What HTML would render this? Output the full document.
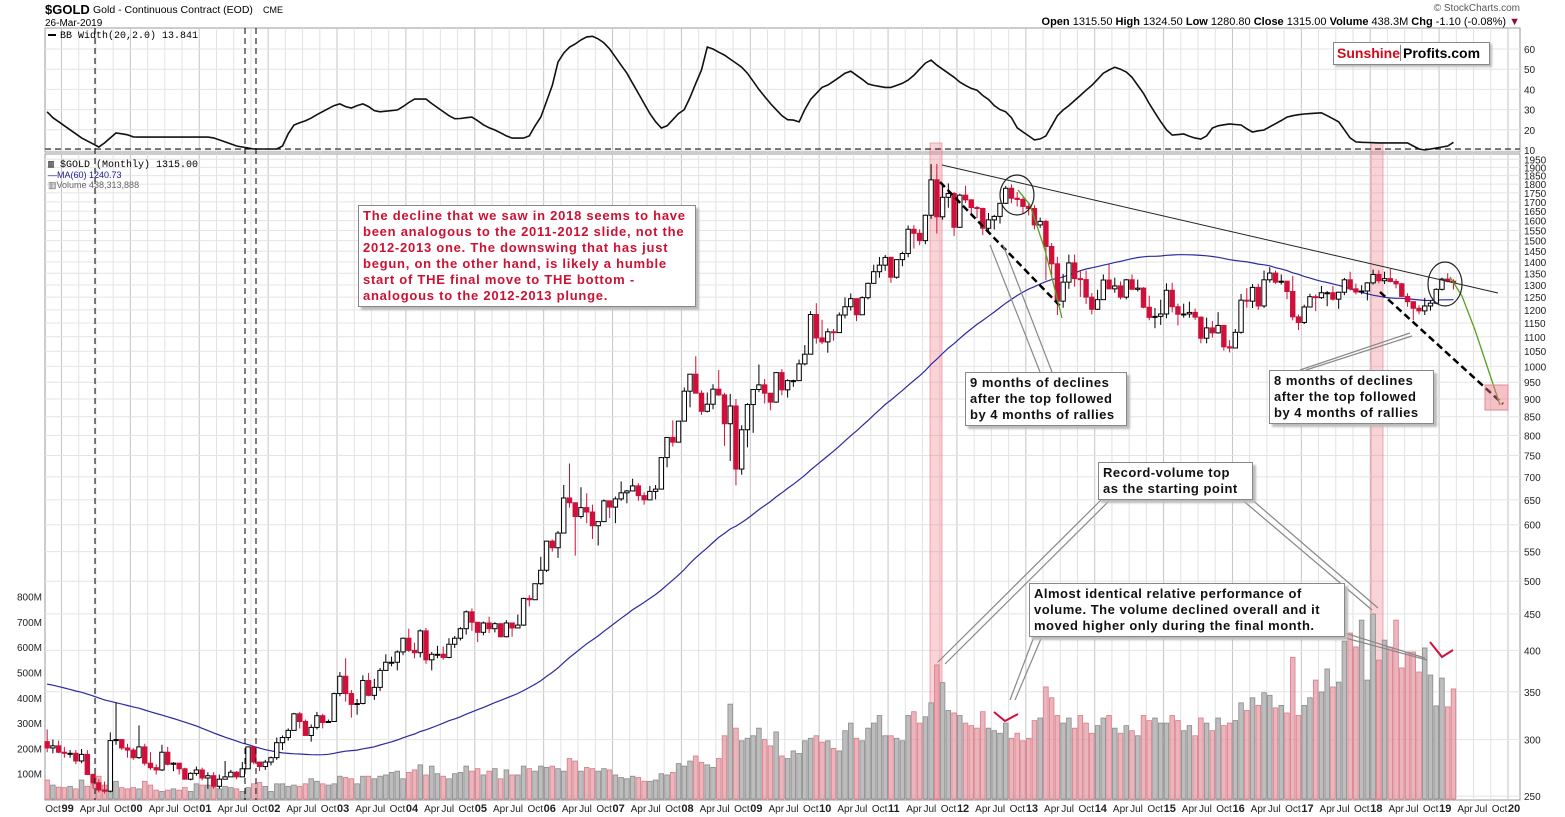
<!DOCTYPE html>
<html><head><meta charset="utf-8">
<style>
body{margin:0;background:#fff;}
svg{display:block;font-family:"Liberation Sans",Arial,sans-serif;}
.box{position:absolute;background:#fff;border:1px solid #888;box-shadow:3px 3px 2px #bbb;font:bold 13px/16px "Liberation Sans",Arial,sans-serif;color:#111;padding:2px 4px;letter-spacing:0.5px}
</style></head>
<body>
<div style="position:relative;width:1565px;height:817px;overflow:hidden">
<svg id="ch" width="1565" height="817" viewBox="0 0 1565 817"></svg>
<div class="box" style="left:358px;top:205px;width:328px;color:#cc1133;letter-spacing:0.75px">The decline that we saw in 2018 seems to have been analogous to the 2011-2012 slide, not the 2012-2013 one. The downswing that has just begun, on the other hand, is likely a humble start of THE final move to THE bottom - analogous to the 2012-2013 plunge.</div>
<div class="box" style="left:965px;top:372px;width:152px">9 months of declines after the top followed by 4 months of rallies</div>
<div class="box" style="left:1269px;top:370px;width:155px">8 months of declines after the top followed by 4 months of rallies</div>
<div class="box" style="left:1098px;top:462px;width:145px">Record-volume top as the starting point</div>
<div class="box" style="left:1029px;top:583px;width:306px">Almost identical relative performance of volume. The volume declined overall and it moved higher only during the final month.</div>
<div style="position:absolute;left:1333px;top:42px;width:155px;height:21px;border:1px solid #888;background:#fff;box-shadow:2px 2px 2px #bbb;font:bold 14px/21px 'Liberation Sans',Arial,sans-serif"><span style="color:#d10a1a;padding-left:3px">Sunshine</span><span style="border-left:1px solid #888;padding-left:2px">Profits.com</span></div>
</div>
<script>
const startYear = 1998, startMonth = 9; // Oct 1998 (0-based month)
const priorCloses = [370,391,
380,381,391,376,387,385,384,385,394,389,383,383,
375,376,391,389,384,387,383,383,384,383,387,387,
405,400,396,392,391,382,385,387,379,379,371,369,
345,364,352,340,344,334,326,325,332,311,296,290,
304,297,301,309,293,296,288,273,294];
const closes = [292,294,288,
287,287,280,286,268,261,255,254,299,300,292,290,
283,293,278,274,272,288,277,278,273,264,269,272,
265,267,258,264,266,270,266,273,293,279,275,279,
283,297,302,309,326,318,304,312,324,317,318,348,
368,348,336,337,363,346,355,375,385,385,398,416,
400,397,426,388,395,395,391,408,416,429,453,438,
424,437,429,436,418,437,430,434,473,471,496,518,
569,557,584,654,644,616,634,625,598,606,648,635,
652,665,669,680,659,650,668,673,745,795,783,838,
923,975,917,865,885,929,912,831,880,718,815,884,
928,942,917,891,980,927,955,955,1008,1040,1182,1096,
1082,1118,1115,1180,1212,1244,1181,1248,1307,1357,1386,1421,
1333,1411,1439,1556,1536,1500,1628,1825,1620,1725,1746,1566,
1737,1711,1669,1664,1561,1604,1622,1692,1776,1720,1713,1675,
1664,1578,1596,1472,1392,1234,1312,1396,1327,1323,1250,1202,
1240,1321,1284,1296,1250,1322,1282,1287,1210,1171,1175,1184,
1278,1212,1183,1184,1190,1172,1095,1132,1114,1141,1065,1061,
1116,1238,1234,1290,1215,1322,1351,1312,1316,1273,1173,1152,
1211,1252,1248,1268,1268,1242,1270,1322,1284,1271,1275,1309,
1345,1318,1327,1315,1305,1253,1232,1206,1196,1215,1226,1282,
1325,1316,1315];
const highs = [310,300,299,
293,290,290,291,290,269,264,262,307,338,300,296,
292,314,296,288,277,295,293,279,277,274,270,275,
274,270,270,268,280,272,271,279,293,293,279,281,
284,302,304,311,327,328,320,315,328,326,320,349,
373,390,352,342,369,372,365,378,395,392,400,417,
429,410,428,430,398,406,405,416,419,431,455,458,
428,439,446,438,433,441,430,449,474,478,496,541,
569,572,588,682,731,630,677,664,640,606,651,644,
657,690,671,696,686,666,680,682,745,795,840,838,
934,975,1033,925,919,944,988,918,915,900,827,888,
925,1006,960,917,981,991,959,958,1022,1071,1195,1226,
1162,1130,1128,1190,1249,1265,1242,1253,1310,1388,1423,1432,
1424,1413,1447,1575,1577,1556,1632,1920,1921,1800,1804,1755,
1745,1791,1714,1677,1668,1640,1630,1693,1790,1798,1755,1725,
1696,1682,1616,1605,1488,1424,1347,1434,1434,1361,1362,1267,
1280,1345,1392,1331,1315,1326,1345,1323,1291,1256,1207,1240,
1307,1309,1224,1224,1232,1205,1174,1170,1157,1191,1143,1088,
1128,1263,1287,1304,1305,1362,1377,1362,1345,1318,1338,1182,
1220,1264,1261,1296,1275,1296,1272,1330,1357,1306,1299,1312,
1366,1363,1357,1369,1326,1309,1266,1220,1218,1247,1237,1286,
1331,1350,1324];
const lows = [288,287,287,
283,283,277,278,268,256,253,252,253,295,290,283,
281,282,276,272,268,271,276,271,268,264,263,267,
263,256,256,256,264,266,264,267,273,277,271,272,
276,281,290,299,309,311,304,298,310,311,317,318,
345,339,322,325,336,345,341,351,375,380,375,394,
398,390,391,383,375,390,388,390,403,413,421,426,
411,420,423,424,417,417,418,432,433,461,471,494,
515,550,539,585,634,543,612,603,573,561,605,613,
603,648,643,671,648,640,654,651,672,722,772,783,
838,876,921,855,862,871,909,774,737,681,705,770,
807,920,887,868,889,911,904,936,954,1003,1043,1076,
1074,1045,1086,1114,1167,1197,1157,1181,1241,1315,1331,1361,
1309,1327,1381,1422,1462,1478,1483,1609,1535,1605,1668,1523,
1563,1693,1628,1613,1527,1547,1555,1585,1688,1693,1675,1635,
1627,1555,1563,1321,1337,1180,1208,1284,1293,1251,1223,1182,
1200,1245,1282,1268,1241,1241,1283,1273,1206,1160,1131,1143,
1168,1190,1141,1170,1170,1162,1077,1077,1097,1111,1052,1046,
1061,1111,1208,1207,1200,1207,1310,1305,1302,1242,1160,1124,
1146,1212,1195,1243,1214,1236,1204,1258,1277,1261,1262,1237,
1302,1307,1304,1311,1286,1252,1212,1160,1183,1180,1197,1222,
1277,1311,1281];
const volumes = [75,55,47,
45,50,40,75,50,60,90,55,85,70,45,40,
45,40,70,55,35,30,35,40,35,45,30,60,
55,55,45,40,50,45,40,30,45,60,65,50,
30,60,60,50,55,50,60,80,70,60,55,60,
90,85,80,60,90,90,80,90,95,105,110,80,
105,115,135,95,130,100,90,80,100,105,130,110,
120,95,110,120,80,115,95,95,130,120,110,130,
125,130,120,110,160,150,110,125,120,110,120,115,
95,85,80,90,85,70,70,75,100,95,105,140,
130,150,170,145,135,125,160,250,375,280,230,240,
250,280,235,210,265,170,160,190,180,230,240,250,
225,230,200,190,270,300,240,230,280,300,330,250,
250,240,230,330,345,300,325,380,530,460,350,340,
330,300,290,280,345,280,270,260,300,240,260,230,
240,310,320,443,400,330,300,320,280,330,300,260,
290,320,330,280,260,290,270,250,330,310,320,300,
300,330,310,270,290,250,320,300,270,320,290,300,
310,380,350,400,370,420,410,360,370,340,560,330,
370,400,470,423,514,443,462,624,656,601,707,470,
731,549,628,600,707,518,581,581,502,597,490,368,
478,364,435];
const bbWidth = [28.9,26,24,22,20,18,16,14.5,13,11.5,13.5,16,
18.4,18,17.5,16.5,16.4,16.4,16.4,16.4,16.4,16.4,16.4,16.4,
16.4,16.4,16.4,16.4,16.4,16,15,14,13,12,11.5,11,
10.5,10.5,10.5,10.5,10.5,12,18,22.4,23.5,24.5,25.8,27.5,
29,30.5,32,32.8,31.5,30.8,32,32.8,31.5,29.5,28.9,29.2,
29.5,29.8,31.5,33.5,35.2,35.2,35.2,33,31,29,27,25.5,
25.6,26,26.3,24.5,22.5,21,19.9,18.5,17,15.9,15.9,15.9,
17,22,26.3,34,42,53.5,58,60.9,62.5,64.5,66,66.3,
65,63,60,56,52,48,43,38,33,28,24,20.9,
22,25,28,30,36,43,49.6,61,60,58.4,57,55,
53,51,48,44,40,36.5,33,30,27,25,24.8,23.9,
30,35,38,41,42.2,44,46,48,49,47,45,42.7,
42,41.5,41,41,42,43,44.6,47,50,53,54.5,52,
50,48,46,43.6,42,40.5,39.6,37,35,32,30,28.9,
26,21,18.9,17,15,15.5,17,22,27,29.8,32,34.5,
37,39.6,42,45,48,49.6,51,50,48.6,46,42,38,
33,28.4,24,20,17.4,17.6,17.9,16.8,15.9,15.4,17,20.9,
22,22.5,22.9,22.6,22.4,20.5,18.9,19.5,19.9,21.5,23,24.6,
26.3,27,27.5,27.8,28,28.2,28.4,27,25.5,23.9,20,16,
14,13.8,13.7,13.6,13.5,13.5,13.5,13.5,13.5,13.5,12,10.5,
10,10.5,11,11.5,12,13.8];
const priceTicks = [250,300,350,400,450,500,550,600,650,700,750,800,850,900,950,1000,1050,1100,1150,1200,1250,1300,1350,1400,1450,1500,1550,1600,1650,1700,1750,1800,1850,1900,1950];
const volTicks = [100,200,300,400,500,600,700,800];
const bbTicks = [10,20,30,40,50,60];
const monthNames = ["Jan","Feb","Mar","Apr","May","Jun","Jul","Aug","Sep","Oct","Nov","Dec"];

const NS="http://www.w3.org/2000/svg";
const svg=document.getElementById('ch');
const L=45, R=1520, PW=5.74, X0=61.5 - 3*PW;
function xB(i){return X0 + i*PW;}
function xC(i){return X0 + (i+0.5)*PW;}
function yP(p){return 399 - 310*Math.log(p/900);}
function yV(v){return 799 - v*0.253;}
function yB(v){return 150 - (v-10)*2.02;}
function el(tag,attrs,parent){const e=document.createElementNS(NS,tag);for(const k in attrs)e.setAttribute(k,attrs[k]);(parent||svg).appendChild(e);return e;}
function txt(x,y,s,attrs,parent){const t=el('text',Object.assign({x:x,y:y},attrs||{}),parent);t.textContent=s;return t;}

const bg=el('g',{});


el('rect',{x:L,y:28,width:R-L,height:124,fill:'#fff',stroke:'#999'},bg);
el('rect',{x:L,y:154,width:R-L,height:646,fill:'#fff',stroke:'#999'},bg);
const nMonths=closes.length+22;
for(let i=0;i<=nMonths;i++){
  const mo=(startMonth+i)%12;
  if(mo%3!==0) continue;
  const x=xB(i); if(x<L||x>R) continue;
  const c = mo===0 ? '#c4c4c4' : '#e2e2e2';
  el('line',{x1:x,y1:28,x2:x,y2:152,stroke:c},bg);
  el('line',{x1:x,y1:154,x2:x,y2:800,stroke:c},bg);
}
priceTicks.forEach(p=>{const y=yP(p);el('line',{x1:L,y1:y,x2:R,y2:y,stroke:'#e4e4e4'},bg);});
bbTicks.forEach(v=>{const y=yB(v);el('line',{x1:L,y1:y,x2:R,y2:y,stroke:'#e4e4e4'},bg);});

[[930,942],[1371,1383]].forEach((b,k)=>{const r=el('rect',{x:b[0],y:143,width:b[1]-b[0],height:657,fill:'rgba(240,130,140,0.35)',stroke:'rgba(230,120,130,0.6)'});

});

const opens = closes.map((c,i)=> i===0 ? 298 : closes[i-1]);
volumes.forEach((v,i)=>{
  const down = closes[i]<opens[i];
  const r=el('rect',{x:xC(i)-2.3,y:yV(v),width:4.6,height:799-yV(v),fill:down?'rgba(228,150,160,0.7)':'#bdbdbd',stroke:down?'#d77b88':'#8a8a8a','stroke-width':0.8});
  
  
});

const all=priorCloses.concat(closes);
let pts=[];
for(let i=0;i<closes.length;i++){const k=i+priorCloses.length;let s=0;for(let j=k-59;j<=k;j++)s+=all[j];pts.push(xC(i).toFixed(1)+','+yP(s/60).toFixed(1));}
const ma=el('polyline',{points:pts.join(' '),fill:'none',stroke:'#2a2aa0','stroke-width':1.2});



closes.forEach((c,i)=>{
  const o=opens[i],x=xC(i),down=c<o;
  const g=el('g',{});
  
  
  const col=down?'#d0103a':'#000';
  el('line',{x1:x,y1:yP(highs[i]),x2:x,y2:yP(lows[i]),stroke:col,'stroke-width':1},g);
  const yt=yP(Math.max(o,c)),yb=yP(Math.min(o,c));
  el('rect',{x:x-2.2,y:yt,width:4.4,height:Math.max(1,yb-yt),fill:down?'#d0103a':'#fff',stroke:col,'stroke-width':1},g);
});

const bbp=bbWidth.map((v,i)=>xC(i).toFixed(1)+','+yB(v).toFixed(1)).join(' ');
const bbl=el('polyline',{points:bbp,fill:'none',stroke:'#111','stroke-width':1.6});



const dg=el('g',{stroke:'#000','stroke-width':1,'stroke-dasharray':'6,4',fill:'none'});


el('line',{x1:L,y1:149,x2:R,y2:149},dg);
[95,245,256].forEach(x=>el('line',{x1:x,y1:28,x2:x,y2:800},dg));

const ag=el('g',{fill:'none'});


el('line',{x1:942,y1:165,x2:1498,y2:293,stroke:'#222','stroke-width':1},ag);
el('line',{x1:940,y1:182,x2:1062,y2:308,stroke:'#000','stroke-width':2.5,'stroke-dasharray':'7,4'},ag);
el('line',{x1:1380,y1:292,x2:1503,y2:404,stroke:'#000','stroke-width':2.5,'stroke-dasharray':'7,4'},ag);
el('polyline',{points:'1018,190 1030,205 1045,250 1062,318',stroke:'#55a020','stroke-width':1.3},ag);
el('polyline',{points:'1450,277 1462,296 1475,330 1485,360 1500,405',stroke:'#55a020','stroke-width':1.3},ag);
el('ellipse',{cx:1017,cy:195,rx:17,ry:20,stroke:'#222','stroke-width':1.2},ag);
el('ellipse',{cx:1445,cy:284,rx:17,ry:22,stroke:'#222','stroke-width':1.2},ag);
el('rect',{x:1485,y:385,width:23,height:25,fill:'rgba(230,120,130,0.45)',stroke:'#e08a95'},ag);
const cl=[[990,245,1040,372],[1003,245,1052,372],[1300,370,1410,333],[1306,370,1412,336],
[1103,498,938,662],[1112,498,945,664],[1240,498,1372,610],[1250,498,1378,608],
[1035,634,1010,700],[1043,634,1015,700],[1335,630,1425,658],[1338,636,1427,660]];
cl.forEach(c=>el('line',{x1:c[0],y1:c[1],x2:c[2],y2:c[3],stroke:'#888','stroke-width':1.2},ag));
el('polyline',{points:'994,712 1005,721 1018,714',stroke:'#d0103a','stroke-width':2},ag);
el('polyline',{points:'1430,642 1442,657 1453,650',stroke:'#d0103a','stroke-width':2},ag);

const ax=el('g',{'font-size':'10px',fill:'#222'});


priceTicks.forEach(p=>txt(1524,yP(p)+4,String(p),{},ax));
bbTicks.forEach(v=>txt(1524,yB(v)+4,String(v),{},ax));
volTicks.forEach(v=>txt(17,yV(v)+4,v+'M',{},ax));
for(let i=0;i<=nMonths;i++){
  const mo=(startMonth+i)%12; if(mo%3!==0) continue;
  const x=xB(i); if(x<L-3||x>R) continue;
  const yr=startYear+Math.floor((startMonth+i)/12);
  if(mo===0) txt(x,812,String(yr).slice(2),{'font-weight':'bold','font-size':'11px'},ax);
  else txt(x+1,812,monthNames[mo],{},ax);
}

const hd=el('g',{fill:'#000'});


txt(45,14,'$GOLD',{'font-weight':'bold','font-size':'13px'},hd);
txt(93,13,'Gold - Continuous Contract (EOD)',{'font-size':'10.5px'},hd);
txt(263,13,'CME',{'font-size':'9px'},hd);
txt(45,26,'26-Mar-2019',{'font-size':'10px'},hd);
txt(1520,11,'© StockCharts.com',{'font-size':'10px','text-anchor':'end',fill:'#555'},hd);
const oh=txt(1520,25,'',{'font-size':'11px','text-anchor':'end'},hd);
oh.innerHTML='<tspan font-weight="bold">Open</tspan> 1315.50  <tspan font-weight="bold">High</tspan> 1324.50  <tspan font-weight="bold">Low</tspan> 1280.80  <tspan font-weight="bold">Close</tspan> 1315.00  <tspan font-weight="bold">Volume</tspan> 438.3M  <tspan font-weight="bold">Chg</tspan> -1.10 (-0.08%) <tspan fill="#8a1030">▼</tspan>';
oh.setAttribute('xml:space','preserve');
const lg=el('g',{'font-family':'"Liberation Mono",monospace','font-size':'10px'});


el('rect',{x:48,y:34,width:8,height:2,fill:'#000'},lg);
txt(60,38,'BB Width(20,2.0) 13.841',{},lg);
txt(48,167,'▥ $GOLD (Monthly) 1315.00',{},lg);
txt(48,178,'—MA(60) 1240.73',{fill:'#1a1a90','font-family':'"Liberation Sans",sans-serif','font-size':'9px'},lg);
txt(48,188,'▥Volume 438,313,888',{fill:'#666','font-family':'"Liberation Sans",sans-serif','font-size':'9px'},lg);
</script>
</body></html>
